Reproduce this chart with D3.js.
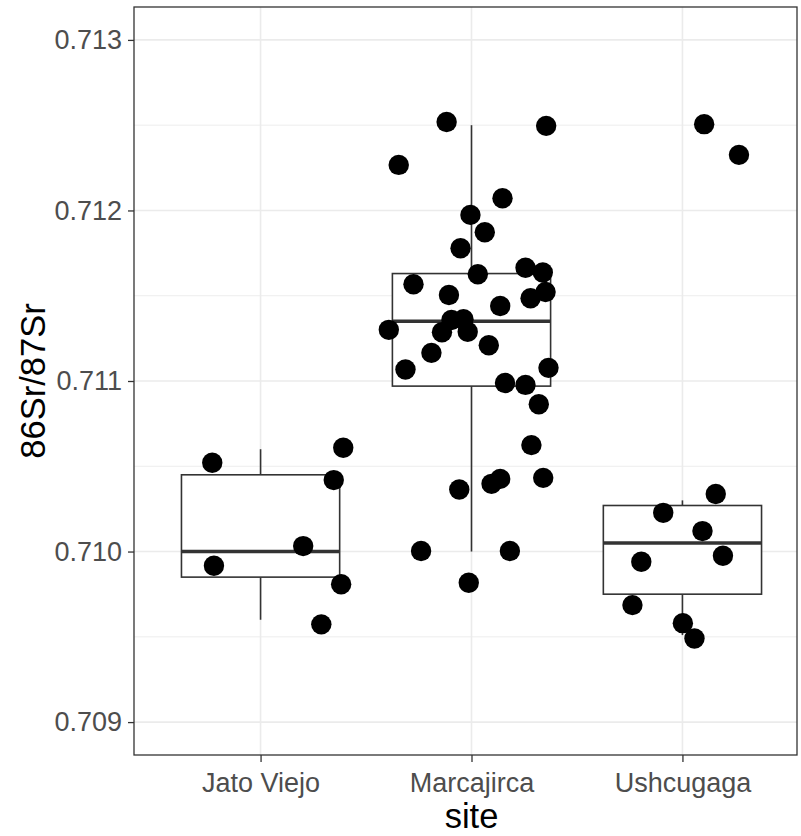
<!DOCTYPE html>
<html>
<head>
<meta charset="utf-8">
<script src="https://cdn.jsdelivr.net/npm/d3@7"></script>
<style>
  html, body { margin: 0; padding: 0; background: #fff; }
  svg { display: block; font-family: "Liberation Sans", Arial, sans-serif; }
</style>
</head>
<body>
<svg id="chart" width="801" height="836"></svg>
<script>
// Sites along the x axis
const sites = ["Jato Viejo", "Marcajirca", "Ushcugaga"];

// Boxplot summaries per site: lower whisker, Q1, median, Q3, upper whisker
const whiskerLow = [0.70960, 0.71000, 0.70951];
const q1         = [0.70985, 0.71097, 0.70975];
const median     = [0.71000, 0.71135, 0.71005];
const q3         = [0.71045, 0.71163, 0.71027];
const whiskerHigh= [0.71060, 0.71250, 0.71030];

// Individual samples: site, horizontal jitter (fraction of category step), 86Sr/87Sr ratio
const sampleSite = [
  "Jato Viejo","Jato Viejo","Jato Viejo","Jato Viejo","Jato Viejo","Jato Viejo","Jato Viejo",
  "Marcajirca","Marcajirca","Marcajirca","Marcajirca","Marcajirca","Marcajirca","Marcajirca",
  "Marcajirca","Marcajirca","Marcajirca","Marcajirca","Marcajirca","Marcajirca","Marcajirca",
  "Marcajirca","Marcajirca","Marcajirca","Marcajirca","Marcajirca","Marcajirca","Marcajirca",
  "Marcajirca","Marcajirca","Marcajirca","Marcajirca","Marcajirca","Marcajirca","Marcajirca",
  "Marcajirca","Marcajirca","Marcajirca","Marcajirca","Marcajirca","Marcajirca","Marcajirca",
  "Ushcugaga","Ushcugaga","Ushcugaga","Ushcugaga","Ushcugaga","Ushcugaga","Ushcugaga",
  "Ushcugaga","Ushcugaga","Ushcugaga"
];
const sampleJitter = [
  -0.229, 0.392, 0.347, 0.202, -0.221, 0.382, 0.288,
  -0.118, 0.354, -0.345, 0.147, -0.005, 0.063, -0.052,
  0.030, 0.256, 0.338, 0.351, 0.280, -0.275, -0.107,
  0.136, -0.095, -0.038, -0.392, -0.140, -0.018, 0.082,
  -0.190, -0.313, 0.365, 0.159, 0.256, 0.319, 0.284,
  0.340, 0.136, 0.095, -0.058, -0.239, 0.182, -0.013,
  0.103, 0.268, 0.158, -0.091, 0.095, -0.195, 0.192, -0.237, 0.002, 0.057
];
const sampleRatio = [
  0.710521, 0.710609, 0.710419, 0.710032, 0.709917, 0.709808, 0.709573,
  0.712519, 0.712496, 0.712267, 0.712072, 0.711974, 0.711872, 0.711778,
  0.711626, 0.711664, 0.711636, 0.711522, 0.711485, 0.711567, 0.711504,
  0.711440, 0.711358, 0.711362, 0.711300, 0.711286, 0.711289, 0.711210,
  0.711165, 0.711067, 0.711077, 0.710988, 0.710977, 0.710864, 0.710624,
  0.710432, 0.710426, 0.710397, 0.710364, 0.710003, 0.710003, 0.709817,
  0.712506, 0.712326, 0.710337, 0.710227, 0.710120, 0.709940, 0.709975,
  0.709686, 0.709580, 0.709490
];

// Tick values
const yMajorTicks = [0.709, 0.710, 0.711, 0.712, 0.713];
const yMinorTicks = [0.7095, 0.7105, 0.7115, 0.7125];

const svg = d3.select("#chart");
const panel = { left: 134, right: 797, top: 7, bottom: 755 };

// Discrete scale with ggplot-style 0.6 expansion on each side
const x = d3.scalePoint()
  .domain(sites)
  .range([panel.left, 809])
  .padding(0.6);
const step = x.step();

const y = d3.scaleLinear()
  .domain([0.708807, 0.713193])
  .range([panel.bottom, panel.top]);

const g = svg.append("g");

// Panel background grid
g.append("g").selectAll("line.minor")
  .data(yMinorTicks).join("line")
  .attr("x1", panel.left).attr("x2", panel.right)
  .attr("y1", d => y(d)).attr("y2", d => y(d))
  .attr("stroke", "#ebebeb").attr("stroke-width", 0.9);

g.append("g").selectAll("line.major")
  .data(yMajorTicks).join("line")
  .attr("x1", panel.left).attr("x2", panel.right)
  .attr("y1", d => y(d)).attr("y2", d => y(d))
  .attr("stroke", "#ebebeb").attr("stroke-width", 1.6);

g.append("g").selectAll("line.vmajor")
  .data(sites).join("line")
  .attr("x1", d => x(d)).attr("x2", d => x(d))
  .attr("y1", panel.top).attr("y2", panel.bottom)
  .attr("stroke", "#ebebeb").attr("stroke-width", 1.6);

// Boxplots
const boxW = step * 0.75;
const boxes = sites.map((s, i) => ({
  site: s, lo: whiskerLow[i], q1: q1[i], med: median[i], q3: q3[i], hi: whiskerHigh[i]
}));
const bx = g.append("g").selectAll("g.box").data(boxes).join("g");
const boxStroke = "#333333";
bx.append("line")
  .attr("x1", d => x(d.site)).attr("x2", d => x(d.site))
  .attr("y1", d => y(d.hi)).attr("y2", d => y(d.q3))
  .attr("stroke", boxStroke).attr("stroke-width", 1.6);
bx.append("line")
  .attr("x1", d => x(d.site)).attr("x2", d => x(d.site))
  .attr("y1", d => y(d.q1)).attr("y2", d => y(d.lo))
  .attr("stroke", boxStroke).attr("stroke-width", 1.6);
bx.append("rect")
  .attr("x", d => x(d.site) - boxW / 2)
  .attr("width", boxW)
  .attr("y", d => y(d.q3))
  .attr("height", d => y(d.q1) - y(d.q3))
  .attr("fill", "#fff")
  .attr("stroke", boxStroke).attr("stroke-width", 1.6);
bx.append("line")
  .attr("x1", d => x(d.site) - boxW / 2).attr("x2", d => x(d.site) + boxW / 2)
  .attr("y1", d => y(d.med)).attr("y2", d => y(d.med))
  .attr("stroke", boxStroke).attr("stroke-width", 3.4);

// Jittered samples
const samples = sampleRatio.map((v, i) => ({ site: sampleSite[i], jit: sampleJitter[i], v }));
g.append("g").selectAll("circle")
  .data(samples).join("circle")
  .attr("cx", d => x(d.site) + d.jit * step)
  .attr("cy", d => y(d.v))
  .attr("r", 10.2)
  .attr("fill", "#000");

// Panel border
g.append("rect")
  .attr("x", panel.left).attr("y", panel.top)
  .attr("width", panel.right - panel.left)
  .attr("height", panel.bottom - panel.top)
  .attr("fill", "none").attr("stroke", "#333333").attr("stroke-width", 1.3);

// Axes
const yAxis = d3.axisLeft(y).tickValues(yMajorTicks).tickFormat(d3.format(".3f"))
  .tickSize(6).tickPadding(6);
const ya = svg.append("g").attr("transform", `translate(${panel.left},0)`).call(yAxis);
const xAxis = d3.axisBottom(x).tickSize(7).tickPadding(6);
const xa = svg.append("g").attr("transform", `translate(0,${panel.bottom})`).call(xAxis);

[ya, xa].forEach(a => {
  a.select(".domain").remove();
  a.selectAll(".tick line").attr("stroke", "#333333").attr("stroke-width", 1.3);
  a.selectAll(".tick text")
    .attr("fill", "#4d4d4d")
    .style("font-size", "27px")
    .style("font-family", "'Liberation Sans', Arial, sans-serif");
});
xa.selectAll(".tick text").attr("dy", "0.9em");

// Axis titles
svg.append("text")
  .attr("x", x("Marcajirca"))
  .attr("y", 828)
  .attr("text-anchor", "middle")
  .style("font-size", "34.5px")
  .attr("fill", "#000")
  .text("site");

svg.append("text")
  .attr("transform", `translate(45,${(panel.top + panel.bottom) / 2}) rotate(-90)`)
  .attr("text-anchor", "middle")
  .style("font-size", "34.5px")
  .attr("fill", "#000")
  .text("86Sr/87Sr");
</script>
</body>
</html>
